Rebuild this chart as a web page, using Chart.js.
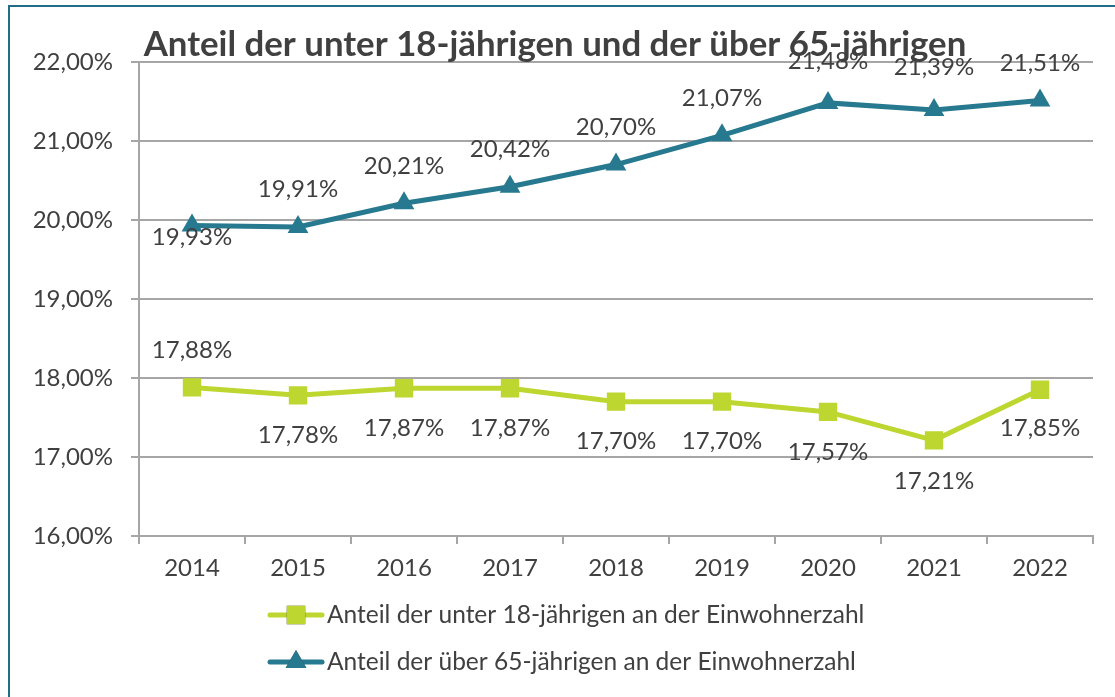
<!DOCTYPE html>
<html lang="de">
<head>
<meta charset="utf-8">
<script src="https://cdn.jsdelivr.net/npm/chart.js@4"></script>
<style>
  html, body { margin: 0; padding: 0; background: #fff; }
  #wrap { position: relative; width: 1115px; height: 697px; overflow: hidden; }
  #frame { position: absolute; left: 8px; top: 5px; width: 1200px; height: 800px;
           border: 2px solid #1f6d87; box-sizing: border-box; }
  canvas { position: absolute; left: 0; top: 0; }
</style>
</head>
<body>
<div id="wrap">
  <div id="frame"></div>
  <canvas id="chart" width="1115" height="697"></canvas>
</div>
<script>
// ===== DATA =====
let years = ["2014", "2015", "2016", "2017", "2018", "2019", "2020", "2021", "2022"];
let under18 = [17.88, 17.78, 17.87, 17.87, 17.70, 17.70, 17.57, 17.21, 17.85];
let over65 = [19.93, 19.91, 20.21, 20.42, 20.70, 21.07, 21.48, 21.39, 21.51];
let yTicks = [16, 17, 18, 19, 20, 21, 22];
let titleText = "Anteil der unter 18-jährigen und der über 65-jährigen";
let seriesNames = [
  "Anteil der unter 18-jährigen an der Einwohnerzahl",
  "Anteil der über 65-jährigen an der Einwohnerzahl"
];

// label offsets (pixels, + = below point)
let labelOffsets = [
  [-37, 40, 40, 40, 40, 40, 40, 41, 38],
  [12, -38, -37, -37, -37, -37, -42, -43, -37]
];

const GREEN = "#bed630";
const TEAL = "#27798f";
const TEXT = "#404040";
const GRID = "#a6a6a6";
const FONT = "Lato, 'Open Sans', sans-serif";
const FSIZE = 24;

function fmt(v) {
  return v.toFixed(2).replace(".", ",") + "%";
}

// ===== LABELS + LEGEND =====
const decorations = {
  id: "decorations",
  afterDatasetsDraw(chart) {
    let ctx = chart.ctx;
    ctx.save();
    ctx.font = FSIZE + "px " + FONT;
    ctx.fillStyle = TEXT;
    ctx.textAlign = "center";
    ctx.textBaseline = "middle";
    chart.data.datasets.forEach((ds, i) => {
      let meta = chart.getDatasetMeta(i);
      meta.data.forEach((pt, j) => {
        ctx.fillText(fmt(ds.data[j]), pt.x, pt.y + labelOffsets[i][j]);
      });
    });
    ctx.restore();
  },
  afterDraw(chart) {
    let ctx = chart.ctx;
    ctx.save();
    chart.data.datasets.forEach((ds, i) => {
      let y = 615 + i * 47;
      ctx.strokeStyle = ds.borderColor;
      ctx.lineWidth = 5;
      ctx.lineCap = "round";
      ctx.beginPath();
      ctx.moveTo(270, y);
      ctx.lineTo(322, y);
      ctx.stroke();
      Chart.helpers.drawPoint(ctx, {
        pointStyle: ds.pointStyle,
        radius: ds.pointRadius,
        borderWidth: 0,
        rotation: 0
      }, 296, y);
      ctx.fillStyle = ds.borderColor;
      ctx.fill();
      ctx.font = "24.5px " + FONT;
      ctx.fillStyle = TEXT;
      ctx.textAlign = "left";
      ctx.textBaseline = "middle";
      ctx.fillText(seriesNames[i], 327, y);
    });
    ctx.restore();
  }
};

// ===== CHART =====
new Chart(document.getElementById("chart"), {
  type: "line",
  data: {
    labels: years,
    datasets: [
      {
        label: seriesNames[0],
        data: under18,
        borderColor: GREEN,
        backgroundColor: GREEN,
        borderWidth: 5,
        pointStyle: "rect",
        pointRadius: 13,
        pointBorderWidth: 0,
        tension: 0
      },
      {
        label: seriesNames[1],
        data: over65,
        borderColor: TEAL,
        backgroundColor: TEAL,
        borderWidth: 5,
        pointStyle: "triangle",
        pointRadius: 12,
        pointBorderWidth: 0,
        tension: 0
      }
    ]
  },
  options: {
    responsive: false,
    animation: false,
    layout: { padding: { top: 0, right: 22, bottom: 101, left: 17 } },
    plugins: {
      legend: { display: false },
      tooltip: { enabled: false },
      title: {
        display: true,
        text: titleText,
        color: "#404040",
        font: { family: FONT, size: 34.8, weight: "bold", lineHeight: 1 },
        padding: { top: 27, bottom: 0 }
      }
    },
    scales: {
      x: {
        offset: true,
        grid: {
          offset: true,
          drawOnChartArea: false,
          drawTicks: true,
          tickLength: 8,
          color: GRID,
          lineWidth: 2
        },
        border: { color: GRID, width: 2 },
        ticks: {
          color: TEXT,
          font: { family: FONT, size: FSIZE },
          padding: 10,
          maxRotation: 0
        },
        afterFit(scale) { scale.height = 60; }
      },
      y: {
        min: 16,
        max: 22,
        afterBuildTicks(scale) {
          scale.ticks = yTicks.map(v => ({ value: v }));
        },
        grid: {
          color: GRID,
          lineWidth: 2,
          drawTicks: true,
          tickLength: 8
        },
        border: { color: GRID, width: 2 },
        ticks: {
          color: TEXT,
          font: { family: FONT, size: FSIZE },
          padding: 18,
          callback: v => fmt(v)
        },
        afterFit(scale) { scale.width = 122; }
      }
    }
  },
  plugins: [decorations]
});
</script>
</body>
</html>
